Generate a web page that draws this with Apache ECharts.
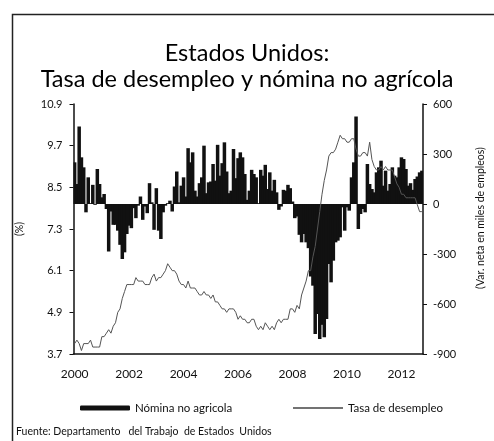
<!DOCTYPE html>
<html>
<head>
<meta charset="utf-8">
<script src="https://cdn.jsdelivr.net/npm/echarts@6/dist/echarts.min.js"></script>
<style>
  html, body { margin: 0; padding: 0; background: #fff; }
  #chart { width: 494px; height: 441px; }
</style>
</head>
<body>
<div id="chart"></div>
<script>
// Jan 2000 - Oct 2012, monthly
const anioInicio = 2000;

// tasa de desempleo (%)
const desempleo = [
  4.0, 4.1, 4.0, 3.8, 4.0, 4.0, 4.0, 4.1, 3.9, 3.9, 3.9, 3.9, // 2000
  4.2, 4.2, 4.3, 4.4, 4.3, 4.5, 4.6, 4.9, 5.0, 5.3, 5.5, 5.7, // 2001
  5.7, 5.7, 5.7, 5.9, 5.8, 5.8, 5.8, 5.7, 5.7, 5.7, 5.9, 6.0, // 2002
  5.8, 5.9, 5.9, 6.0, 6.1, 6.3, 6.2, 6.1, 6.1, 6.0, 5.8, 5.7, // 2003
  5.7, 5.6, 5.8, 5.6, 5.6, 5.6, 5.5, 5.4, 5.4, 5.5, 5.4, 5.4, // 2004
  5.3, 5.4, 5.2, 5.2, 5.1, 5.0, 5.0, 4.9, 5.0, 5.0, 5.0, 4.9, // 2005
  4.7, 4.8, 4.7, 4.7, 4.6, 4.6, 4.7, 4.7, 4.5, 4.4, 4.5, 4.4, // 2006
  4.6, 4.5, 4.4, 4.5, 4.4, 4.6, 4.7, 4.6, 4.7, 4.7, 4.7, 5.0, // 2007
  5.0, 4.9, 5.1, 5.0, 5.4, 5.6, 5.8, 6.1, 6.1, 6.5, 6.8, 7.3, // 2008
  7.8, 8.3, 8.7, 9.0, 9.4, 9.5, 9.5, 9.6, 9.8, 10.0, 9.9, 9.9, // 2009
  9.8, 9.8, 9.9, 9.9, 9.6, 9.4, 9.4, 9.5, 9.5, 9.4, 9.8, 9.3, // 2010
  9.1, 9.0, 9.0, 9.1, 9.0, 9.1, 9.0, 9.0, 9.0, 8.8, 8.6, 8.5, // 2011
  8.3, 8.3, 8.2, 8.2, 8.2, 8.2, 8.2, 8.0, 7.8, 7.8            // 2012
];

// nomina no agricola, var. neta en miles de empleos
const nomina = [
  250, 120, 465, 280, 220, -50, 160, 5, 115, -5, 210, 120,           // 2000
  40, 60, -30, -285, -45, -125, -125, -160, -245, -330, -290, -180,  // 2001
  -130, -145, -25, -85, -10, 45, -95, -15, -55, 125, 10, -155,       // 2002
  95, -160, -210, -50, -10, 5, 20, -45, 105, 195, 10, 110,           // 2003
  160, 45, 335, 250, 310, 80, 45, 125, 160, 350, 65, 130,            // 2004
  135, 240, 140, 355, 170, 245, 370, 195, 65, 80, 330, 155,          // 2005
  275, 310, 280, 180, 25, 80, 205, 180, 160, 5, 205, 170,            // 2006
  235, 90, 190, 80, 145, 70, -35, -15, 85, 80, 115, 95,              // 2007
  15, -85, -75, -185, -230, -180, -230, -265, -435, -490, -780, -660, // 2008
  -810, -725, -800, -690, -360, -470, -340, -230, -220, -200, -20, -160, // 2009
  -20, -40, 160, 250, 525, -150, -60, -30, -50, 240, 120, 90,        // 2010
  70, 190, 220, 260, 110, 200, 80, 120, 220, 170, 160, 220,          // 2011
  280, 270, 210, 110, 125, 85, 150, 165, 190, 200                    // 2012
];

const ticksIzq = [3.7, 4.9, 6.1, 7.3, 8.5, 9.7, 10.9];
const ticksDer = [-900, -600, -300, 0, 300, 600];

const meses = [];
for (let i = 0; i < desempleo.length; i++) {
  const anio = anioInicio + Math.floor(i / 12);
  const mes = (i % 12) + 1;
  meses.push(anio + '-' + (mes < 10 ? '0' + mes : mes));
}

const fuente = 'Lato, "Open Sans", sans-serif';

const chart = echarts.init(document.getElementById('chart'), null, { renderer: 'canvas' });

const option = {
  animation: false,
  backgroundColor: '#fff',
  textStyle: { fontFamily: fuente },
  title: [
    {
      text: 'Estados Unidos:',
      left: 'center',
      top: 36,
      textStyle: { fontFamily: fuente, fontSize: 23.5, fontWeight: 'normal', color: '#000' }
    },
    {
      text: 'Tasa de desempleo y nómina no agrícola',
      left: 'center',
      top: 62,
      textStyle: { fontFamily: fuente, fontSize: 23.5, fontWeight: 'normal', color: '#000' }
    }
  ],
  legend: [
    {
      data: ['Nómina no agricola'],
      left: 75,
      top: 397,
      itemWidth: 50,
      itemHeight: 5,
      textStyle: { fontFamily: fuente, fontSize: 11.5, color: '#111' }
    },
    {
      data: [{ name: 'Tasa de desempleo', icon: 'rect', itemStyle: { color: '#444' } }],
      left: 288,
      top: 397,
      itemWidth: 50,
      itemHeight: 1.5,
      textStyle: { fontFamily: fuente, fontSize: 11.5, color: '#111' }
    }
  ],
  graphic: [
    {
      type: 'rect',
      left: 10,
      top: 12,
      shape: { width: 600, height: 600 },
      style: { fill: 'none', stroke: '#222', lineWidth: 1.5 },
      silent: true
    },
    {
      type: 'text',
      left: 16,
      top: 426,
      style: {
        text: 'Fuente: Departamento   del Trabajo  de Estados  Unidos',
        font: '10.5px ' + fuente,
        fill: '#111'
      }
    }
  ],
  grid: {
    left: 73.5,
    right: 67.5,
    top: 104,
    bottom: 87
  },
  xAxis: {
    type: 'category',
    data: meses,
    boundaryGap: true,
    axisLine: { onZero: false, lineStyle: { color: '#111', width: 1.5 } },
    axisTick: {
      length: 4,
      interval: function (idx) { return idx % 12 === 0; },
      lineStyle: { color: '#111' }
    },
    axisLabel: {
      interval: function (idx) { return idx % 24 === 0; },
      formatter: function (v) { return v.slice(0, 4); },
      margin: 14,
      fontSize: 12,
      color: '#111'
    },
    splitLine: { show: false }
  },
  yAxis: [
    {
      type: 'value',
      min: 3.7,
      max: 10.9,
      name: '(%)',
      nameLocation: 'middle',
      nameRotate: 90,
      nameGap: 48,
      nameTextStyle: { fontSize: 10.5, color: '#111' },
      axisLine: { show: true, lineStyle: { color: '#111', width: 1.5 } },
      axisTick: { show: true, length: 4, customValues: ticksIzq, lineStyle: { color: '#111' } },
      axisLabel: {
        customValues: ticksIzq,
        formatter: function (v) { return v.toFixed(1); },
        margin: 11,
        fontSize: 11,
        color: '#111'
      },
      splitLine: { show: false }
    },
    {
      type: 'value',
      min: -900,
      max: 600,
      interval: 300,
      position: 'right',
      name: '(Var. neta en miles de empleos)',
      nameLocation: 'middle',
      nameRotate: 90,
      nameGap: 52,
      nameTextStyle: { fontSize: 10.5, color: '#111', padding: [0, 0, 0, 22] },
      axisLine: { show: true, lineStyle: { color: '#111', width: 1.5 } },
      axisTick: { show: true, length: 4, lineStyle: { color: '#111' } },
      axisLabel: { margin: 10, fontSize: 11, color: '#111' },
      splitLine: { show: false }
    }
  ],
  series: [
    {
      name: 'Nómina no agricola',
      type: 'bar',
      yAxisIndex: 1,
      data: nomina,
      barWidth: 3.5,
      itemStyle: { color: '#111' },
      z: 2
    },
    {
      name: 'Tasa de desempleo',
      type: 'line',
      yAxisIndex: 0,
      data: desempleo,
      symbol: 'none',
      lineStyle: { color: '#555', width: 1 },
      z: 3
    }
  ]
};

chart.setOption(option);
</script>
</body>
</html>
